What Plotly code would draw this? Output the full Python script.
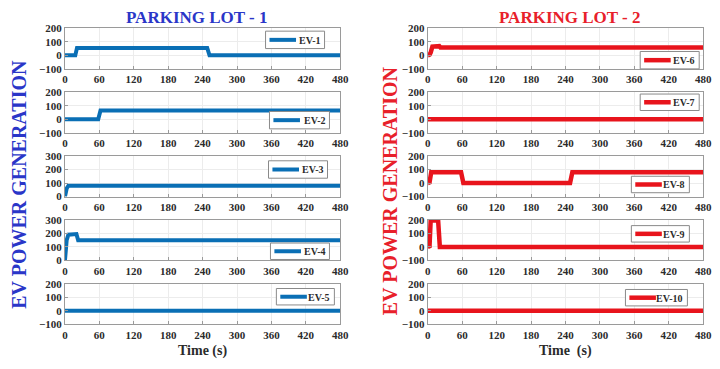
import plotly.graph_objects as go

# ---------------- data ----------------
x_ticks = [0, 60, 120, 180, 240, 300, 360, 420, 480]

ev1_t = [0, 18, 21, 248, 252, 480]
ev1_p = [0, 0, 55, 55, 0, 0]
ev2_t = [0, 58, 62, 480]
ev2_p = [0, 0, 65, 65]
ev3_t = [0, 1, 3, 6, 480]
ev3_p = [0, 20, 60, 80, 80]
ev4_t = [0, 1, 3, 6, 18, 20, 23, 480]
ev4_p = [0, 50, 150, 190, 200, 195, 150, 150]
ev5_t = [0, 480]
ev5_p = [0, 0]

ev6_t = [0, 3, 5, 8, 20, 22, 480]
ev6_p = [0, 5, 20, 65, 68, 58, 58]
ev7_t = [0, 480]
ev7_p = [0, 0]
ev8_t = [0, 3, 6, 58, 62, 248, 252, 480]
ev8_p = [0, 5, 80, 80, 0, 0, 80, 80]
ev9_t = [0, 3, 5, 18, 21, 480]
ev9_p = [0, 5, 195, 195, 0, 0]
ev10_t = [0, 480]
ev10_p = [0, 0]

names = ["EV-1", "EV-2", "EV-3", "EV-4", "EV-5", "EV-6", "EV-7", "EV-8", "EV-9", "EV-10"]
series_t = [ev1_t, ev2_t, ev3_t, ev4_t, ev5_t, ev6_t, ev7_t, ev8_t, ev9_t, ev10_t]
series_p = [ev1_p, ev2_p, ev3_p, ev4_p, ev5_p, ev6_p, ev7_p, ev8_p, ev9_p, ev10_p]
y_ranges = [[-100, 200], [-100, 200], [0, 300], [0, 300], [-100, 200],
            [-100, 200], [-100, 200], [-100, 200], [-100, 200], [-100, 200]]

# ---------------- layout geometry ----------------
W, H = 720, 369
BLUE = "#0a6fb5"
RED = "#e8141c"
row_tops = [23, 89, 155, 221, 287]
row_h = 42
col_x = [(63, 343), (432, 712)]
line_w = [4, 4.5]

# legend boxes in px: (left, top, right, bottom)
leg_box = [(267, 26, 327, 44), (271, 109, 332, 127), (270, 160, 330, 178),
           (272, 245, 332, 262), (278, 292, 337, 309),
           (648, 47, 708, 65), (648, 91, 708, 108), (639, 176, 698, 193),
           (639, 227, 698, 244), (633, 293, 696, 310)]

FONT = "Liberation Serif"

fig = go.Figure()
layout = dict(
    width=W, height=H, margin=dict(l=0, r=0, t=0, b=0),
    paper_bgcolor="white", plot_bgcolor="white",
    font=dict(family=FONT, size=11, color="#333333"),
    showlegend=False,
)

shapes = []
annotations = []

def px(xp):
    return xp / W

def py(yp):
    return 1 - yp / H

for i in range(10):
    col = i // 5
    row = i % 5
    n = i + 1
    color = BLUE if col == 0 else RED
    xa = "x" if n == 1 else f"x{n}"
    ya = "y" if n == 1 else f"y{n}"
    fig.add_trace(go.Scatter(
        x=series_t[i], y=series_p[i], mode="lines", name=names[i],
        line=dict(color=color, width=line_w[col]), xaxis=xa, yaxis=ya,
    ))
    x0, x1 = col_x[col]
    top = row_tops[row]
    bot = top + row_h
    axis_common = dict(
        showline=True, linecolor="#9a9a9a", linewidth=1, mirror=True,
        showgrid=True, gridcolor="#ececec", gridwidth=1, zeroline=False,
        ticks="inside", ticklen=3, tickcolor="#9a9a9a",
        tickfont=dict(family=FONT, size=11, color="#2b2b2b", weight="bold"),
    )
    layout[f"xaxis{n if n > 1 else ''}"] = dict(
        domain=[x0 / W, x1 / W], anchor=ya, range=[0, 480],
        tickvals=x_ticks, **axis_common,
    )
    layout[f"yaxis{n if n > 1 else ''}"] = dict(
        domain=[1 - bot / H, 1 - top / H], anchor=xa, range=y_ranges[i],
        dtick=100, **axis_common,
    )
    # legend box drawn by hand
    l, t, r, b = leg_box[i]
    shapes.append(dict(type="rect", xref="paper", yref="paper",
                       x0=px(l), x1=px(r), y0=py(b), y1=py(t),
                       line=dict(color="#8a8a8a", width=1), fillcolor="white", layer="above"))
    ym = (t + b) / 2
    shapes.append(dict(type="line", xref="paper", yref="paper",
                       x0=px(l + 4), x1=px(l + 31), y0=py(ym), y1=py(ym),
                       line=dict(color=color, width=line_w[col]), layer="above"))
    annotations.append(dict(text=names[i], x=px(r - 3), y=py(ym + 0.5), xanchor="right",
                            yanchor="middle", font=dict(size=10, color="#2b2b2b", weight="bold")))

fig.update_layout(**layout)

annotations += [
    dict(text="PARKING LOT - 1", x=197 / W, y=1 - 12 / H, font=dict(size=17, color="#2a36c8", weight="bold")),
    dict(text="PARKING LOT - 2", x=577 / W, y=1 - 12 / H, font=dict(size=17, color="#e8202a", weight="bold")),
    dict(text="EV POWER GENERATION", x=16 / W, y=1 - 184 / H, textangle=-90,
         font=dict(size=20, color="#2a36c8", weight="bold")),
    dict(text="EV POWER GENERATION", x=393 / W, y=1 - 191 / H, textangle=-90,
         font=dict(size=20, color="#e8202a", weight="bold")),
    dict(text="Time (s)", x=203 / W, y=1 - 357 / H, font=dict(size=14, color="#2b2b2b", weight="bold")),
    dict(text="Time  (s)", x=572 / W, y=1 - 357 / H, font=dict(size=14, color="#2b2b2b", weight="bold")),
]
for a in annotations:
    a.update(xref="paper", yref="paper", showarrow=False)
    a.setdefault("xanchor", "center")
    a.setdefault("yanchor", "middle")
    a["font"]["family"] = FONT
fig.update_layout(annotations=annotations, shapes=shapes)

fig.write_html("out.html")
